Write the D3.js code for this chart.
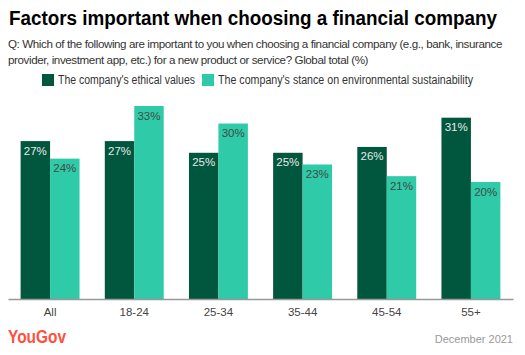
<!DOCTYPE html>
<html><head><meta charset="utf-8">
<script src="https://cdn.jsdelivr.net/npm/d3@7"></script>
<style>body{margin:0;background:#fff}svg{display:block;font-family:"Liberation Sans",Arial,sans-serif}</style>
</head><body>
<script>
const categories = ["All","18-24","25-34","35-44","45-54","55+"];
const seriesNames = ["The company's ethical values","The company's stance on environmental sustainability"];
const ethical = [27,27,25,25,26,31];
const environmental = [24,33,30,23,21,20];
const colors = ["#00573d","#2fcaa7"];
const labelColors = ["#e8e8e8","#3f4a47"];

const W=525,H=355;
const svg=d3.select("body").append("svg").attr("width",W).attr("height",H);

function fitText(sel, target){
  const node=sel.node();
  const w=node.getComputedTextLength();
  const n=node.textContent.length;
  sel.attr("letter-spacing",((target-w)/n).toFixed(3));
  return sel;
}

svg.append("text").attr("x",9).attr("y",25).attr("font-size",19.5).attr("font-weight",700)
  .attr("fill","#000").attr("textLength",488).attr("lengthAdjust","spacingAndGlyphs")
  .text("Factors important when choosing a financial company");
fitText(svg.append("text").attr("x",8).attr("y",48).attr("font-size",11.6).attr("fill","#333")
  .text("Q: Which of the following are important to you when choosing a financial company (e.g., bank, insurance"),494);
fitText(svg.append("text").attr("x",8).attr("y",64).attr("font-size",11.6).attr("fill","#333")
  .text("provider, investment app, etc.) for a new product or service? Global total (%)"),360);

// legend
const leg=[{x:42,tx:58,tl:137},{x:202,tx:218,tl:255}];
seriesNames.forEach((n,i)=>{
  svg.append("rect").attr("x",leg[i].x).attr("y",74).attr("width",12).attr("height",12).attr("fill",colors[i]);
  svg.append("text").attr("x",leg[i].tx).attr("y",84).attr("font-size",12).attr("fill","#333")
    .attr("textLength",leg[i].tl).attr("lengthAdjust","spacingAndGlyphs").text(n);
});

const x=d3.scaleBand().domain(categories).range([8,513]).paddingInner(0.3).paddingOuter(0.15);
const xs=d3.scaleBand().domain([0,1]).range([0,x.bandwidth()]);
const y=d3.scaleLinear().domain([0,33]).range([299,106]);

const data=categories.map((c,i)=>({c,vals:[ethical[i],environmental[i]]}));
const g=svg.append("g");
const grp=g.selectAll("g.grp").data(data).join("g").attr("transform",d=>`translate(${x(d.c)},0)`);
grp.selectAll("rect").data(d=>d.vals.map((v,k)=>({v,k}))).join("rect")
  .attr("x",d=>xs(d.k)).attr("width",xs.bandwidth()).attr("y",d=>y(d.v)).attr("height",d=>y(0)-y(d.v))
  .attr("fill",d=>colors[d.k]);
grp.selectAll("text").data(d=>d.vals.map((v,k)=>({v,k}))).join("text")
  .attr("x",d=>xs(d.k)+xs.bandwidth()/2).attr("y",d=>y(d.v)+13.5).attr("text-anchor","middle")
  .attr("font-size",11.5).attr("fill",d=>labelColors[d.k]).text(d=>d.v+"%");

const ax=svg.append("g").attr("transform","translate(0,299)").call(d3.axisBottom(x).tickSize(0).tickPadding(9));
ax.select(".domain").attr("stroke","#999").attr("stroke-width",1.5);
ax.selectAll("text").attr("font-size",11.5).attr("fill","#444").attr("font-family","Liberation Sans, Arial, sans-serif");

svg.append("text").attr("x",8).attr("y",343).attr("font-size",18).attr("font-weight",600).attr("fill","#ff5040")
  .attr("textLength",58).attr("lengthAdjust","spacingAndGlyphs").text("YouGov");
svg.append("text").attr("x",513).attr("y",343).attr("text-anchor","end").attr("font-size",11).attr("fill","#999")
  .text("December 2021");
</script>
</body></html>
